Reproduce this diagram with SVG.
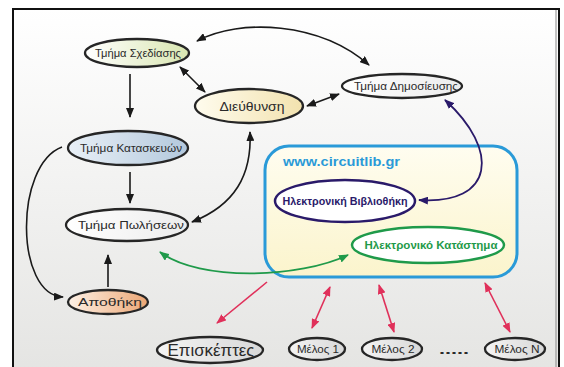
<svg xmlns="http://www.w3.org/2000/svg" width="564" height="367" viewBox="0 0 564 367">
<defs>
<linearGradient id="bg" x1="0" y1="0" x2="0" y2="1"><stop offset="0" stop-color="#ffffff"/><stop offset="1" stop-color="#e4e4e2"/></linearGradient>
<linearGradient id="gSx" x1="0" y1="0" x2="1" y2="0"><stop offset="0" stop-color="#ffffff"/><stop offset="1" stop-color="#d9e6b0"/></linearGradient>
<linearGradient id="gKa" x1="0" y1="0" x2="1" y2="0"><stop offset="0" stop-color="#e9f0f7"/><stop offset="1" stop-color="#b3c8dc"/></linearGradient>
<linearGradient id="gDi" x1="0" y1="0" x2="1" y2="0"><stop offset="0" stop-color="#fffcee"/><stop offset="1" stop-color="#f2e2ae"/></linearGradient>
<linearGradient id="gWh" x1="0" y1="0" x2="1" y2="0"><stop offset="0" stop-color="#ffffff"/><stop offset="1" stop-color="#ececec"/></linearGradient>
<linearGradient id="gAp" x1="0" y1="0" x2="1" y2="0"><stop offset="0" stop-color="#fdf1e6"/><stop offset="1" stop-color="#eca674"/></linearGradient>
<linearGradient id="gGr" x1="0" y1="0" x2="1" y2="0"><stop offset="0" stop-color="#f4f4f4"/><stop offset="1" stop-color="#d8d8d8"/></linearGradient>
<linearGradient id="gBox" x1="0" y1="0" x2="0" y2="1"><stop offset="0" stop-color="#fffdf0"/><stop offset="1" stop-color="#fbf4cc"/></linearGradient>
<marker id="aK" viewBox="0 0 10 8" refX="9" refY="4" markerWidth="10" markerHeight="8" markerUnits="userSpaceOnUse" orient="auto-start-reverse"><path d="M0,0 L10,4 L0,8 z" fill="#1a1a1a"/></marker>
<marker id="aN" viewBox="0 0 10 8" refX="9" refY="4" markerWidth="10" markerHeight="8" markerUnits="userSpaceOnUse" orient="auto-start-reverse"><path d="M0,0 L10,4 L0,8 z" fill="#2a1a6a"/></marker>
<marker id="aG" viewBox="0 0 10 8" refX="9" refY="4" markerWidth="10" markerHeight="8" markerUnits="userSpaceOnUse" orient="auto-start-reverse"><path d="M0,0 L10,4 L0,8 z" fill="#1f9a4a"/></marker>
<marker id="aR" viewBox="0 0 10 8" refX="9" refY="4" markerWidth="10" markerHeight="8" markerUnits="userSpaceOnUse" orient="auto-start-reverse"><path d="M0,0 L10,4 L0,8 z" fill="#e0305a"/></marker>
</defs>
<style>
.n{stroke:#262626;stroke-width:2.3}
.t{font-family:"Liberation Sans",Arial,sans-serif;fill:#2a2a2a;text-anchor:middle}
.c{fill:none;stroke:#1a1a1a;stroke-width:1.6}
.k{marker-end:url(#aK)}
.kk{marker-start:url(#aK);marker-end:url(#aK)}
.r{fill:none;stroke:#e0305a;stroke-width:1.6}
</style>
<rect x="0" y="0" width="564" height="367" fill="#ffffff"/>
<rect x="13" y="9" width="546" height="370" fill="url(#bg)" stroke="#111" stroke-width="2"/>
<line x1="556" y1="10" x2="556" y2="367" stroke="#888" stroke-width="1"/>

<g id="box">
<rect x="265" y="146" width="252" height="131" rx="24" fill="url(#gBox)" stroke="#2a9ad8" stroke-width="3"/>
<text x="283" y="166" font-family="Liberation Sans,Arial,sans-serif" font-weight="bold" font-size="13" fill="#2a9ad8" textLength="117" lengthAdjust="spacingAndGlyphs">www.circuitlib.gr</text>
</g>

<g id="connectors">
<path class="c k" d="M130 74 L130 117"/>
<path class="c kk" d="M180 67 L205 92"/>
<path class="c kk" d="M197 41 C240 18 320 22 369 65"/>
<path class="c kk" d="M307 106 L339 94"/>
<path class="c k" d="M130 172 L130 203"/>
<path class="c kk" d="M250 132 C252 175 235 205 192 222"/>
<path class="c k" d="M62 147 C14 165 15 295 63 297"/>
<path class="c k" d="M108 287 L108 255"/>
<path d="M348 255 C300 278 200 282 160 252" fill="none" stroke="#1f9a4a" stroke-width="1.8" marker-start="url(#aG)" marker-end="url(#aG)"/>
<path d="M445 100 C500 150 495 205 419 200" fill="none" stroke="#2a1a6a" stroke-width="1.8" marker-start="url(#aN)" marker-end="url(#aN)"/>
<path class="r" d="M267 282 L217 323" marker-end="url(#aR)"/>
<path class="r" d="M330 287 L312 328" marker-start="url(#aR)" marker-end="url(#aR)"/>
<path class="r" d="M379 285 L394 332" marker-start="url(#aR)" marker-end="url(#aR)"/>
<path class="r" d="M485 283 L510 332" marker-start="url(#aR)" marker-end="url(#aR)"/>
</g>

<g id="sxediasis">
<ellipse class="n" cx="137" cy="53" rx="52" ry="14" fill="url(#gSx)"/>
<text class="t" x="138" y="57" font-size="10.5" textLength="86" lengthAdjust="spacingAndGlyphs">Τμήμα Σχεδίασης</text>
</g>
<g id="kataskeuon">
<ellipse class="n" cx="128" cy="148" rx="60" ry="17" fill="url(#gKa)"/>
<text class="t" x="131" y="152" font-size="11" textLength="102" lengthAdjust="spacingAndGlyphs">Τμήμα Κατασκευών</text>
</g>
<g id="dieuthinsi">
<ellipse class="n" cx="249" cy="106" rx="54" ry="17" fill="url(#gDi)"/>
<text class="t" x="252" y="111" font-size="12.5" textLength="65" lengthAdjust="spacingAndGlyphs">Διεύθυνση</text>
</g>
<g id="dimosieusis">
<ellipse class="n" cx="402" cy="86" rx="60" ry="12" fill="url(#gWh)"/>
<text class="t" x="406" y="90" font-size="10" textLength="104" lengthAdjust="spacingAndGlyphs">Τμήμα Δημοσίευσης</text>
</g>
<g id="poliseon">
<ellipse class="n" cx="127" cy="225" rx="61" ry="16" fill="url(#gWh)"/>
<text class="t" x="131" y="229" font-size="11" textLength="106" lengthAdjust="spacingAndGlyphs">Τμήμα Πωλήσεων</text>
</g>
<g id="apothiki">
<ellipse class="n" cx="108" cy="302" rx="40" ry="12" fill="url(#gAp)"/>
<text class="t" x="110" y="306" font-size="11" textLength="64" lengthAdjust="spacingAndGlyphs">Αποθήκη</text>
</g>
<g id="vivliothiki">
<ellipse cx="345" cy="201" rx="70" ry="21" fill="#ffffff" stroke="#2a1a6a" stroke-width="2.5"/>
<text class="t" x="345" y="205" font-size="10" font-weight="bold" style="fill:#2a1a6a" textLength="125" lengthAdjust="spacingAndGlyphs">Ηλεκτρονική Βιβλιοθήκη</text>
</g>
<g id="katastima">
<ellipse cx="428" cy="245" rx="76" ry="18" fill="#ffffff" stroke="#1f9a4a" stroke-width="2.5"/>
<text class="t" x="431" y="249" font-size="10.5" font-weight="bold" style="fill:#1f9a4a" textLength="133" lengthAdjust="spacingAndGlyphs">Ηλεκτρονικό Κατάστημα</text>
</g>
<g id="episkeptes">
<ellipse class="n" cx="210" cy="350" rx="53" ry="13" fill="url(#gGr)"/>
<text class="t" x="211" y="356" font-size="16.5" textLength="87" lengthAdjust="spacingAndGlyphs">Επισκέπτες</text>
</g>
<g id="melos1">
<ellipse class="n" cx="317" cy="349" rx="28" ry="11" fill="url(#gGr)"/>
<text class="t" x="318" y="353" font-size="10" textLength="42" lengthAdjust="spacingAndGlyphs">Μέλος 1</text>
</g>
<g id="melos2">
<ellipse class="n" cx="392" cy="349" rx="30" ry="11" fill="url(#gGr)"/>
<text class="t" x="393" y="353" font-size="10" textLength="43" lengthAdjust="spacingAndGlyphs">Μέλος 2</text>
</g>
<text class="t" x="454" y="354" font-size="12" font-weight="bold" textLength="30" lengthAdjust="spacingAndGlyphs">.....</text>
<g id="melosN">
<ellipse class="n" cx="515" cy="349" rx="30" ry="11" fill="url(#gGr)"/>
<text class="t" x="517" y="353" font-size="10" textLength="45" lengthAdjust="spacingAndGlyphs">Μέλος Ν</text>
</g>
</svg>
